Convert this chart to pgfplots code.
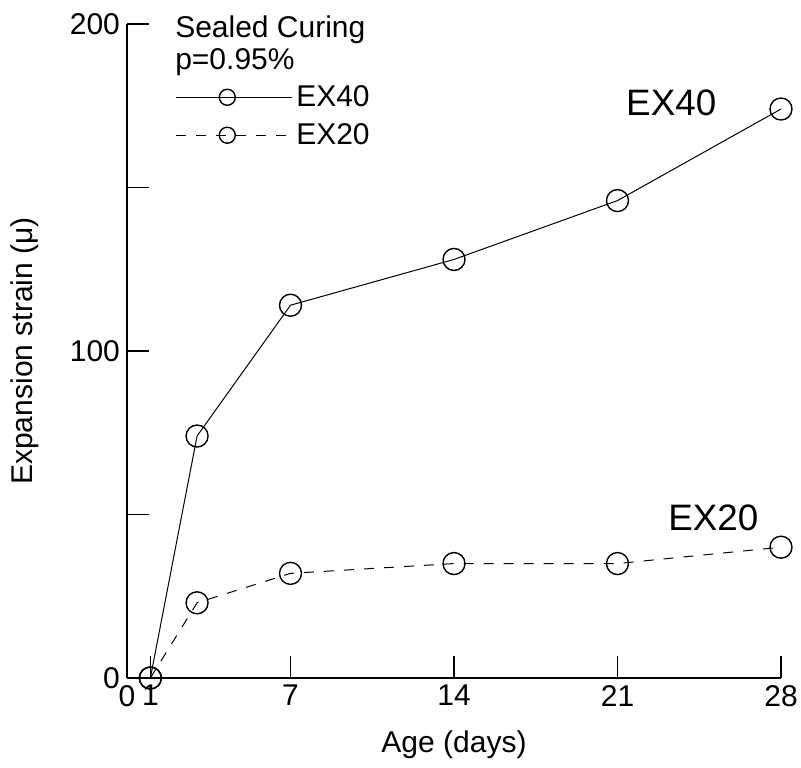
\documentclass[border=0pt]{standalone}
\usepackage{fontspec}
\setmainfont{Liberation Sans}
\usepackage{pgfplots}
\pgfplotsset{compat=1.18}
\begin{document}
\begin{tikzpicture}
\begin{axis}[
  scale only axis,
  width=327pt, height=327pt,
  xmin=0, xmax=28, ymin=0, ymax=200,
  axis x line*=bottom, axis y line*=left,
  axis line style={line width=0.6pt},
  tick align=inside,
  major tick length=11pt,
  tick style={line width=0.6pt, black},
  xtick={0,1,7,14,21,28},
  ytick={0,50,100,150,200},
  yticklabels={0,,100,,200},
  /pgf/number format/assume math mode=true,
  tick label style={font=\fontsize{15}{18}\selectfont},
  label style={font=\fontsize{15}{18}\selectfont},
  xlabel={Age (days)},
  ylabel={Expansion strain (μ)},
  xlabel style={at={(axis description cs:0.5,-0.1024)}, anchor=center},
  ylabel style={at={(axis description cs:-0.156,0.5)}, anchor=center},
  clip=false,
  legend image code/.code={\path (0pt,0pt) -- (58pt,0pt);\draw[mark repeat=2,mark phase=2,#1,mark size=4pt] plot coordinates {(0pt,0pt)(25.75pt,0pt)(51.5pt,0pt)};},
  legend style={draw=none, fill=none, at={(axis cs:2.05,182.6)}, anchor=north west,
    font=\fontsize{15}{17}\selectfont, inner sep=0pt, row sep=3pt,
    cells={anchor=west}},
]
\addplot[black, line width=0.5pt, mark=o, mark size=5.5pt, mark options={solid, line width=0.7pt}]
  coordinates {(1,0) (3,74) (7,114) (14,128) (21,146) (28,174)};
\addlegendentry{EX40}
\addplot[black, line width=0.5pt, dash pattern=on 5pt off 5pt, mark=o, mark size=5.5pt, mark options={solid, line width=0.7pt}]
  coordinates {(1,0) (3,23) (7,32) (14,35) (21,35) (28,40)};
\addlegendentry{EX20}
\node[anchor=north west, align=left, inner sep=0pt, font=\fontsize{15}{16}\selectfont] at (axis cs:2.05,202.7) {Sealed Curing\\p=0.95\%};
\node[font=\fontsize{18.4}{20}\selectfont] at (axis cs:23.3,175.8) {EX40};
\node[font=\fontsize{18.4}{20}\selectfont] at (axis cs:25.1,49) {EX20};
\end{axis}
\pgfresetboundingbox
\path (-63.5pt,-44.5pt) rectangle (337pt,339pt);
\end{tikzpicture}
\end{document}
